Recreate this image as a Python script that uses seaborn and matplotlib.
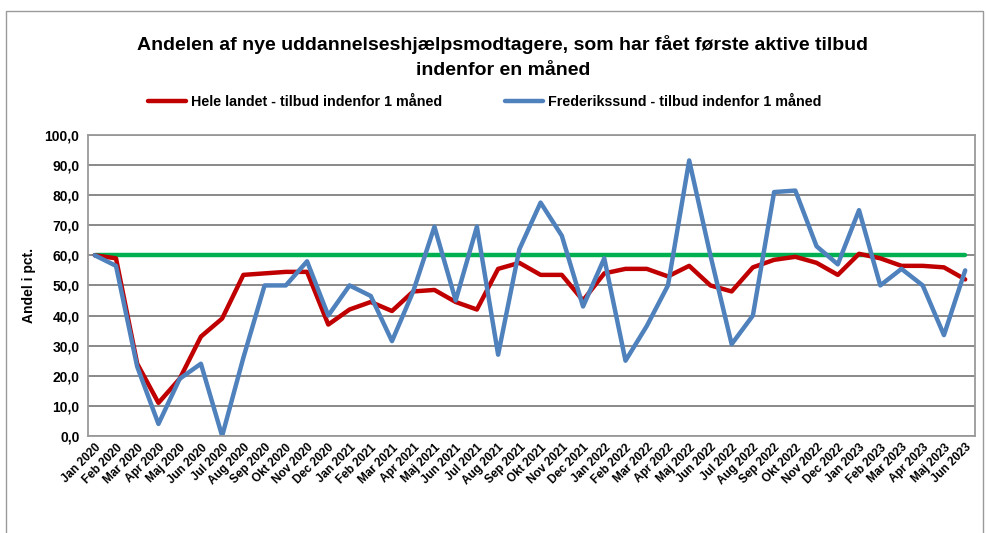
import matplotlib
matplotlib.use("Agg")
import matplotlib.pyplot as plt
import matplotlib.ticker as mticker
from matplotlib.patches import Rectangle
import seaborn as sns
import pandas as pd

months = ["Jan 2020", "Feb 2020", "Mar 2020", "Apr 2020", "Maj 2020", "Jun 2020",
          "Jul 2020", "Aug 2020", "Sep 2020", "Okt 2020", "Nov 2020", "Dec 2020",
          "Jan 2021", "Feb 2021", "Mar 2021", "Apr 2021", "Maj 2021", "Jun 2021",
          "Jul 2021", "Aug 2021", "Sep 2021", "Okt 2021", "Nov 2021", "Dec 2021",
          "Jan 2022", "Feb 2022", "Mar 2022", "Apr 2022", "Maj 2022", "Jun 2022",
          "Jul 2022", "Aug 2022", "Sep 2022", "Okt 2022", "Nov 2022", "Dec 2022",
          "Jan 2023", "Feb 2023", "Mar 2023", "Apr 2023", "Maj 2023", "Jun 2023"]

hele_landet = [60.0, 59.0, 24.0, 11.0, 19.0, 33.0, 39.0, 53.5, 54.0, 54.5, 54.5, 37.0,
               42.0, 44.5, 41.5, 48.0, 48.5, 44.5, 42.0, 55.5, 57.5, 53.5, 53.5, 45.0,
               54.0, 55.5, 55.5, 53.0, 56.5, 50.0, 48.0, 56.0, 58.5, 59.5, 57.5, 53.5,
               60.5, 59.0, 56.5, 56.5, 56.0, 52.0]

frederikssund = [60.0, 56.5, 23.0, 4.0, 19.0, 24.0, 0.0, 26.0, 50.0, 50.0, 58.0, 40.0,
                 50.0, 46.5, 31.5, 48.0, 69.5, 45.0, 69.5, 27.0, 62.0, 77.5, 66.5, 43.0,
                 59.0, 25.0, 36.5, 50.0, 91.5, 60.0, 30.5, 40.0, 81.0, 81.5, 63.0, 57.0,
                 75.0, 50.0, 55.5, 50.0, 33.5, 55.0]

# target level (green line, not in the legend)
target = [60.0] * len(months)

series_names = ["Hele landet - tilbud indenfor 1 måned",
                "Frederikssund - tilbud indenfor 1 måned",
                "Mål"]
colors = ["#C00000", "#4F81BD", "#00B050"]

rows = []
for name, vals in zip(series_names, [hele_landet, frederikssund, target]):
    for i, v in enumerate(vals):
        rows.append({"x": i, "serie": name, "value": v})
df = pd.DataFrame(rows)

sns.set_style("white")
plt.rcParams["font.family"] = ["Liberation Sans", "DejaVu Sans"]
plt.rcParams["text.color"] = "black"
plt.rcParams["xtick.color"] = "black"
plt.rcParams["ytick.color"] = "black"
plt.rcParams["axes.labelcolor"] = "black"

fig = plt.figure(figsize=(9.86, 5.33), dpi=100)
ax = fig.add_axes([0.089, 0.182, 0.900, 0.565])

# green first so red/blue sit on top
for k in [2, 0, 1]:
    sub = df[df["serie"] == series_names[k]]
    sns.lineplot(data=sub, x="x", y="value", color=colors[k], linewidth=3.2,
                 ax=ax, label=series_names[k] if k < 2 else None, legend=False)

ax.set_xlim(-0.33, len(months) - 1 + 0.47)
ax.set_ylim(0, 100)
ax.yaxis.set_major_locator(mticker.MultipleLocator(10))
ax.yaxis.set_major_formatter(mticker.FuncFormatter(lambda v, p: f"{v:.1f}".replace(".", ",")))
ax.grid(axis="y", color="#808080", linewidth=1.3)
ax.set_axisbelow(True)
for s in ax.spines.values():
    s.set_visible(True)
    s.set_color("#9a9a9a")
    s.set_linewidth(1.3)

ax.set_xticks(range(len(months)))
ax.set_xticklabels(months, rotation=45, ha="right", rotation_mode="anchor",
                   fontsize=8.5, fontweight="bold")
ax.tick_params(axis="x", length=0, pad=4)
ax.tick_params(axis="y", length=0, pad=6, labelsize=10)
for t in ax.get_yticklabels():
    t.set_fontweight("bold")
ax.set_xlabel("")
ax.set_ylabel("Andel i pct.", fontsize=10, fontweight="bold", labelpad=6)

fig.text(0.510, 0.916, "Andelen af nye uddannelseshjælpsmodtagere, som har fået første aktive tilbud",
         ha="center", va="center", fontsize=14, fontweight="bold")
fig.text(0.510, 0.867, "indenfor en måned",
         ha="center", va="center", fontsize=14, fontweight="bold")

handles, labels = ax.get_legend_handles_labels()
fig.legend(handles, labels, loc="center", bbox_to_anchor=(0.492, 0.808), ncol=2,
           frameon=False, prop={"size": 10.3, "weight": "bold"},
           handlelength=2.6, handletextpad=0.4, columnspacing=4.4)

fig.patches.append(Rectangle((0.006, -0.01), 0.991, 0.99, transform=fig.transFigure,
                             fill=False, edgecolor="#9a9a9a", linewidth=1.0))

fig.savefig("out.png", dpi=100)
